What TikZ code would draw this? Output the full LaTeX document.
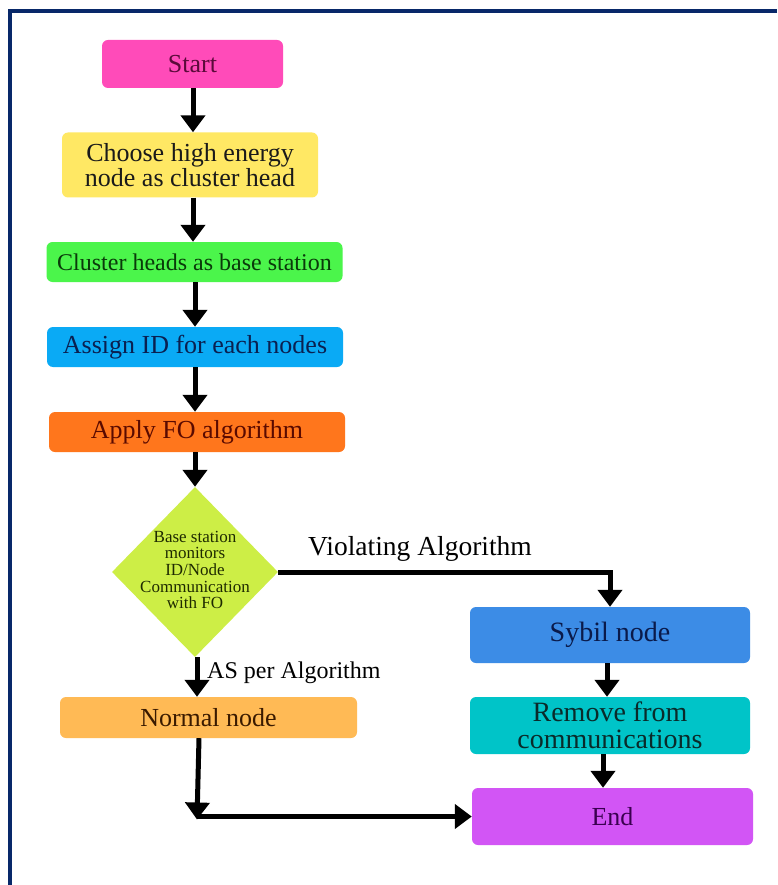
\documentclass[tikz,border=0pt]{standalone}
\usepackage{fontspec}
\setmainfont{Liberation Serif}
\usetikzlibrary{arrows.meta,shapes.geometric}
\definecolor{cframe}{HTML}{082869}
\definecolor{cstart}{HTML}{FF4BB9}
\definecolor{tstart}{HTML}{5B0A3A}
\definecolor{cchoose}{HTML}{FFE864}
\definecolor{tchoose}{HTML}{1A1A1A}
\definecolor{ccluster}{HTML}{4BF54B}
\definecolor{tcluster}{HTML}{0A3A0A}
\definecolor{cassign}{HTML}{0AAAF5}
\definecolor{tassign}{HTML}{0A2050}
\definecolor{capply}{HTML}{FF761C}
\definecolor{tapply}{HTML}{5A0A00}
\definecolor{cdia}{HTML}{CDEE46}
\definecolor{tdia}{HTML}{1E2A00}
\definecolor{cnormal}{HTML}{FFBA55}
\definecolor{tnormal}{HTML}{3A1A00}
\definecolor{csybil}{HTML}{3C8CE6}
\definecolor{tsybil}{HTML}{0A1A4A}
\definecolor{cremove}{HTML}{00C4C8}
\definecolor{tremove}{HTML}{0A2A2A}
\definecolor{cend}{HTML}{D255F5}
\definecolor{tend}{HTML}{3A0050}
\tikzset{
  box/.style={rectangle, rounded corners=6pt, inner sep=0pt, align=center, draw=none},
  fa/.style={font=\fontsize{26}{25}\selectfont},
  fb/.style={font=\fontsize{24}{24}\selectfont},
  fc/.style={font=\fontsize{28}{27}\selectfont},
  arr/.style={line width=5pt, -{Triangle[width=24pt,length=17pt]}, black},
  lbl/.style={anchor=base west, inner sep=0pt, text=black}
}
\begin{document}
\begin{tikzpicture}[x=1pt,y=-1pt]
\useasboundingbox (0,0) rectangle (777,885);
\fill[white] (0,0) rectangle (777,885);
\draw[cframe, line width=4pt] (777,11) -- (9.5,11) -- (9.5,885);

\node[box, fa, fill=cstart, text=tstart, minimum width=181pt, minimum height=48pt] (start) at (192.5,64) {Start};
\node[box, fa, fill=cchoose, text=tchoose, minimum width=256pt, minimum height=65pt] (choose) at (190,165) {Choose high energy\\node as cluster head};
\node[box, fb, fill=ccluster, text=tcluster, minimum width=296pt, minimum height=40pt] (cluster) at (194.5,262) {Cluster heads as base station};
\node[box, fa, fill=cassign, text=tassign, minimum width=296pt, minimum height=40pt] (assign) at (195,347) {Assign ID for each nodes};
\node[box, fa, fill=capply, text=tapply, minimum width=296pt, minimum height=40pt] (apply) at (197,432) {Apply FO algorithm};
\node[diamond, fill=cdia, draw=none, inner sep=0pt, minimum width=166pt, minimum height=170pt] (dia) at (195,572) {};
\node[align=center, inner sep=0pt, text=tdia, font=\fontsize{17}{16.7}\selectfont] (diatext) at (195,570) {Base station\\monitors\\ID/Node\\Communication\\with FO};
\node[box, fa, fill=cnormal, text=tnormal, minimum width=297pt, minimum height=41pt] (normal) at (208.5,717.5) {Normal node};
\node[box, fc, fill=csybil, text=tsybil, minimum width=280pt, minimum height=56pt] (sybil) at (610,635) {Sybil node};
\node[box, fc, fill=cremove, text=tremove, minimum width=280pt, minimum height=57pt] (remove) at (610,725.5) {Remove from\\communications};
\node[box, fa, fill=cend, text=tend, minimum width=281pt, minimum height=57pt] (end) at (612.5,816.5) {End};

\node[lbl, font=\fontsize{27.5}{27}\selectfont] (viol) at (308,555) {Violating Algorithm};
\node[lbl, fb] (asper) at (207,678) {AS per Algorithm};

\coordinate (vcorner) at (610,572);
\coordinate (ncorner) at (197,816.5);

\draw[arr] ([xshift=0.5pt]start.south) -- ([xshift=0.5pt]start.south |- choose.north);
\draw[arr] ([xshift=3pt]choose.south) -- ([xshift=3pt]choose.south |- cluster.north);
\draw[arr] ([xshift=0.5pt]cluster.south) -- ([xshift=0.5pt]cluster.south |- assign.north);
\draw[arr] (assign.south) -- (assign.south |- apply.north);
\draw[arr] ([xshift=-2pt]apply.south) -- (dia.north);
\draw[arr] ([xshift=2pt]dia.south) -- ([xshift=2pt]dia.south |- normal.north);
\draw[arr] (dia.east) -- (vcorner) -- (sybil.north);
\draw[arr] ([xshift=-3pt]sybil.south) -- ([xshift=-3pt]sybil.south |- remove.north);
\draw[arr] ([xshift=-7pt]remove.south) -- ([xshift=-7pt]remove.south |- end.north);
\draw[arr] ([xshift=-9.5pt]normal.south) -- ([yshift=-3pt]ncorner);
\draw[arr] (ncorner) -- (end.west);
\end{tikzpicture}
\end{document}
